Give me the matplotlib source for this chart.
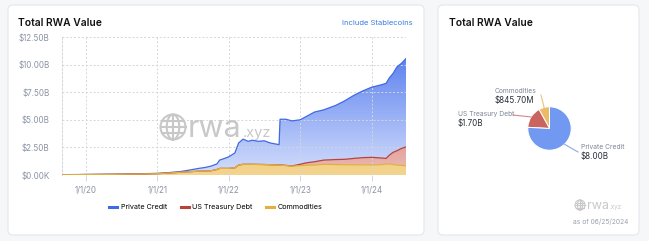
import numpy as np
import matplotlib
matplotlib.use("Agg")
import matplotlib.pyplot as plt
import matplotlib.dates as mdates
from matplotlib.patches import FancyBboxPatch, Circle, Ellipse
from matplotlib.colors import LinearSegmentedColormap
from matplotlib.lines import Line2D
import pandas as pd

plt.rcParams['font.family'] = ['Inter', 'DejaVu Sans']

# data, $B
dates = ['2019-09-01', '2020-01-01', '2020-06-01', '2020-10-01', '2021-01-01', '2021-03-01',
         '2021-05-01', '2021-06-15', '2021-08-01', '2021-09-01', '2021-10-01', '2021-11-01',
         '2021-11-15', '2021-12-10', '2022-01-01', '2022-02-01', '2022-02-20', '2022-03-15',
         '2022-04-10', '2022-05-01', '2022-06-01', '2022-07-01', '2022-08-01', '2022-09-15',
         '2022-09-20', '2022-10-20', '2022-11-20', '2023-01-01', '2023-02-01', '2023-03-15',
         '2023-05-01', '2023-07-01', '2023-08-15', '2023-10-01', '2023-11-15', '2024-01-01',
         '2024-02-15', '2024-03-15', '2024-04-01', '2024-04-20', '2024-05-10', '2024-06-01',
         '2024-06-25']
commodities = [0.02, 0.04, 0.06, 0.09, 0.12, 0.18, 0.25, 0.30, 0.35, 0.36, 0.38, 0.50,
               0.60, 0.60, 0.60, 0.65, 0.90, 0.97, 0.97, 0.97, 0.96, 0.95, 0.93, 0.90,
               0.90, 0.85, 0.80, 0.85, 0.88, 0.90, 0.97, 0.95, 0.93, 0.93, 0.92, 0.92,
               0.93, 1.00, 1.00, 0.95, 0.90, 0.87, 0.8457]
treasury = [0.00, 0.00, 0.00, 0.00, 0.00, 0.00, 0.00, 0.00, 0.00, 0.00, 0.00, 0.00,
            0.00, 0.00, 0.00, 0.00, 0.00, 0.00, 0.00, 0.00, 0.00, 0.00, 0.00, 0.02,
            0.02, 0.02, 0.02, 0.12, 0.22, 0.30, 0.38, 0.45, 0.49, 0.57, 0.65, 0.68,
            0.62, 0.50, 0.80, 1.10, 1.30, 1.53, 1.70]
private_credit = [0.01, 0.01, 0.02, 0.02, 0.03, 0.04, 0.07, 0.15, 0.25, 0.32, 0.42, 0.50,
                  0.75, 0.90, 1.05, 1.35, 2.00, 2.28, 2.08, 2.18, 2.09, 2.15, 1.97, 1.83,
                  4.13, 4.18, 4.08, 4.03, 4.20, 4.50, 4.55, 4.90, 5.28, 5.70, 6.03, 6.35,
                  6.60, 6.80, 7.00, 7.15, 7.60, 7.70, 8.00]

y_ticks = [0, 2.5, 5, 7.5, 10, 12.5]
y_labels = ['$0.00K', '$2.50B', '$5.00B', '$7.50B', '$10.00B', '$12.50B']
series_names = ['Private Credit', 'US Treasury Debt', 'Commodities']
pie_labels = ['Commodities', 'US Treasury Debt', 'Private Credit']
pie_values_txt = ['$845.70M', '$1.70B', '$8.00B']

BLUE_L, RED_L, YEL_L = '#4069e4', '#b8433d', '#e3b040'
W, H = 649, 241

fig = plt.figure(figsize=(W / 100, H / 100), dpi=100)
fig.patch.set_facecolor('#f6f7f9')

# background layer: cards, pie, titles (pixel coords, y from bottom)
bg = fig.add_axes([0, 0, 1, 1], zorder=0)
bg.set_xlim(0, W)
bg.set_ylim(0, H)
bg.axis('off')

def py(y):
    return H - y

for x0, x1 in [(8, 424), (438, 639)]:
    bg.add_patch(FancyBboxPatch((x0, py(235)), x1 - x0, 230, boxstyle='round,pad=0,rounding_size=5',
                                fc='white', ec='#e4e7ec', lw=0.8))

bg.text(18, py(23), 'Total RWA Value', fontsize=7.4, fontweight='semibold', color='#111', va='center')
bg.text(413, py(23), 'Include Stablecoins', fontsize=5.5, color='#3b7be0', va='center', ha='right')
bg.text(449, py(23), 'Total RWA Value', fontsize=7.4, fontweight='semibold', color='#111', va='center')

# pie
pv = [commodities[-1], treasury[-1], private_credit[-1]]
pcols = ['#ecbb66', '#c9645e', '#7299f1']
cx, cy, r = 549.5, py(128.5), 21.7
wedges, _ = bg.pie(pv, colors=pcols, startangle=90, center=(cx, cy), radius=r,
                   wedgeprops=dict(edgecolor='white', linewidth=0.7))
bg.set_xlim(0, W)
bg.set_ylim(0, H)
bg.set_aspect('auto')

lead_cols = ['#e8c27a', '#d08b86', '#8fa8e8']
ends = [(541, py(95)), (513, py(115)), (578, py(152))]
txt_pos = [(495, 91, 'left'), (458, 114, 'left'), (581, 147, 'left')]
for w_, c, e, (tx, ty, ha), name, val in zip(wedges, lead_cols, ends, txt_pos, pie_labels, pie_values_txt):
    ang = np.deg2rad((w_.theta1 + w_.theta2) / 2)
    sx, sy = cx + r * np.cos(ang), cy + r * np.sin(ang)
    bg.plot([sx, e[0]], [sy, e[1]], color=c, lw=0.8)
    bg.text(tx, py(ty), name, fontsize=4.8, color='#7c8596', va='center', ha=ha)
    bg.text(tx, py(ty + 9.5), val, fontsize=5.8, color='#2a2f3a', va='center', ha=ha)

# main stacked area chart
ax = fig.add_axes([62 / W, (H - 175) / H, (406 - 62) / W, (175 - 37) / H], zorder=1)
ax.patch.set_alpha(0)
x = mdates.date2num(pd.to_datetime(dates))
c = np.array(commodities)
t = c + np.array(treasury)
p = t + np.array(private_credit)


def grad_fill(lo, hi, c_top, c_bot, z):
    poly = ax.fill_between(x, lo, hi, color='none', lw=0, zorder=z)
    cmap = LinearSegmentedColormap.from_list('g', [c_bot, c_top])
    img = ax.imshow(np.linspace(0, 1, 256).reshape(-1, 1), cmap=cmap, aspect='auto', origin='lower',
                    extent=[x[0], x[-1], 0, 11], zorder=z)
    img.set_clip_path(poly.get_paths()[0], transform=ax.transData)


grad_fill(t, p, '#5a80ee', '#d4defc', 1)
grad_fill(c, t, '#c24c46', '#ecbdb8', 1.1)
grad_fill(0, c, '#e6ab40', '#f3d490', 1.2)
ax.plot(x, p, color=BLUE_L, lw=0.9, zorder=3)
ax.plot(x, t, color=RED_L, lw=0.9, zorder=3)
ax.plot(x, c, color=YEL_L, lw=0.9, zorder=3)

ax.set_xlim(x[0], x[-1])
ax.set_ylim(0, 12.5)
ax.set_yticks(y_ticks)
ax.set_yticklabels(y_labels)
ax.xaxis.set_major_locator(mdates.YearLocator())
ax.xaxis.set_major_formatter(plt.FuncFormatter(
    lambda v, pos: '{}/{}/{}'.format(mdates.num2date(v).month, mdates.num2date(v).day,
                                     mdates.num2date(v).strftime('%y'))))
ax.grid(True, color='#d3d6dc', ls=(0, (2, 2)), lw=0.7, zorder=0)
for s in ['top', 'right', 'bottom']:
    ax.spines[s].set_visible(False)
ax.spines['left'].set_color('#d3d6dc')
ax.spines['left'].set_linestyle((0, (2, 2)))
ax.spines['left'].set_linewidth(0.7)
ax.tick_params(axis='y', length=0, pad=9, labelsize=5.8, labelcolor='#8a93a3')
ax.tick_params(axis='x', length=4, width=0.7, color='#d3d6dc', pad=4, labelsize=5.8, labelcolor='#8a93a3')

handles = [Line2D([], [], color=col, lw=2.2) for col in [BLUE_L, RED_L, YEL_L]]
fig.legend(handles, series_names, loc='center', bbox_to_anchor=(216 / W, 1 - 207 / H), ncol=3,
           frameon=False, fontsize=5.2, handlelength=1.1, handletextpad=0.5, columnspacing=1.9)

# watermarks
fg = fig.add_axes([0, 0, 1, 1], zorder=5)
fg.set_xlim(0, W)
fg.set_ylim(0, H)
fg.axis('off')


def globe(gx, gy, gr, col, lw):
    fg.add_patch(Circle((gx, gy), gr, fill=False, ec=col, lw=lw))
    fg.add_patch(Ellipse((gx, gy), gr, 2 * gr, fill=False, ec=col, lw=lw))
    fg.plot([gx, gx], [gy - gr, gy + gr], color=col, lw=lw)
    for k in (-0.5, 0, 0.5):
        hw = gr * np.sqrt(1 - k * k)
        fg.plot([gx - hw, gx + hw], [gy + k * gr, gy + k * gr], color=col, lw=lw)


globe(173, py(127), 12.5, '#c8c8c8', 1.5)
fg.text(188, py(137), 'rwa', fontsize=22, color='#c8c8c8', va='baseline', ha='left')
fg.text(243, py(137), '.xyz', fontsize=10.5, color='#c8c8c8', va='baseline', ha='left')
globe(580, py(205), 5, '#c8c8c8', 0.8)
fg.text(587, py(209), 'rwa', fontsize=9, color='#c8c8c8', va='baseline', ha='left')
fg.text(610, py(209), '.xyz', fontsize=4.5, color='#c8c8c8', va='baseline', ha='left')
fg.text(628, py(222), 'as of 06/25/2024', fontsize=4.8, color='#9aa1ad', va='center', ha='right')

fig.savefig('out.png', dpi=100, facecolor=fig.get_facecolor())
